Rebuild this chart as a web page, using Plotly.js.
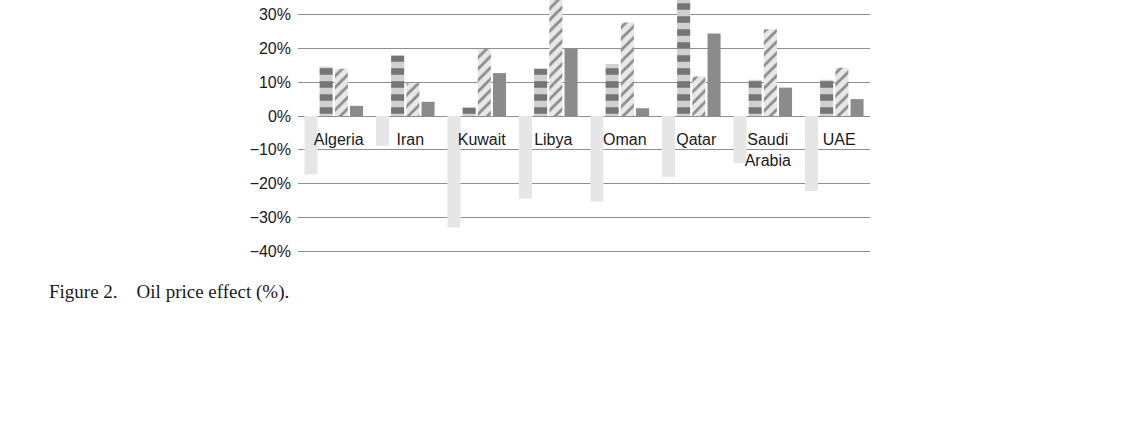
<!DOCTYPE html>
<html>
<head>
<meta charset="utf-8">
<script src="https://cdn.plot.ly/plotly-3.0.1.min.js"></script>
<style>
  html, body { margin: 0; padding: 0; background: #fff; }
  #chart { width: 1142px; height: 430px; }
</style>
</head>
<body>
<div id="chart"></div>
<script>
// oil price effect (%) by country, four scenarios
const countries = ['Algeria', 'Iran', 'Kuwait', 'Libya', 'Oman', 'Qatar', 'Saudi<br>Arabia', 'UAE'];
const seriesLight = [-17.3, -8.8, -33.0, -24.5, -25.4, -18.0, -13.9, -22.2];
const seriesBands = [14.6, 17.9, 2.5, 14.0, 15.4, 40.0, 10.7, 10.7];
const seriesStripes = [14.0, 9.7, 19.8, 38.0, 27.7, 11.7, 25.7, 14.3];
const seriesDark = [3.0, 4.2, 12.7, 19.9, 2.3, 24.4, 8.4, 5.0];

const tickVals = [-40, -30, -20, -10, 0, 10, 20, 30];
const tickText = ['\u221240%', '\u221230%', '\u221220%', '\u221210%', '0%', '10%', '20%', '30%'];

const caption = 'Figure 2.&nbsp;&nbsp;&nbsp; Oil price effect (%).';

const traces = [
  {
    x: countries,
    y: seriesLight,
    type: 'bar',
    marker: { color: '#e5e6e5', line: { width: 0 } },
  },
  {
    x: countries,
    y: seriesBands,
    type: 'bar',
    marker: {
      color: '#c4c4c4',
      line: { width: 0 },
      pattern: { shape: '-', fgcolor: '#747474', bgcolor: '#d0d0d0', size: 13, solidity: 0.5 },
    },
  },
  {
    x: countries,
    y: seriesStripes,
    type: 'bar',
    marker: {
      color: '#e4e4e4',
      line: { width: 0 },
      pattern: { shape: '/', fgcolor: '#8c8c8c', bgcolor: '#e8e8e8', size: 8, solidity: 0.35 },
    },
  },
  {
    x: countries,
    y: seriesDark,
    type: 'bar',
    marker: { color: '#8b8b8b', line: { width: 0 } },
  },
];

const yMin = -40.84;
const yMax = 34.33;

const layout = {
  width: 1142,
  height: 430,
  margin: { l: 298, r: 272, t: 0, b: 176 },
  paper_bgcolor: '#ffffff',
  plot_bgcolor: '#ffffff',
  showlegend: false,
  barmode: 'group',
  bargap: 0.15,
  bargroupgap: 0.14,
  font: { family: 'Liberation Sans, Arial, sans-serif', size: 16, color: '#1a1a1a' },
  xaxis: {
    type: 'category',
    anchor: 'free',
    position: (0 - yMin) / (yMax - yMin),
    showline: false,
    showgrid: false,
    ticks: '',
    ticklabelstandoff: 12,
    ticklabelshift: 5,
    tickfont: { size: 16 },
    fixedrange: true,
  },
  yaxis: {
    range: [yMin, yMax],
    tickvals: tickVals,
    ticktext: tickText,
    showgrid: true,
    gridcolor: '#8f8f8f',
    gridwidth: 1,
    zeroline: true,
    zerolinecolor: '#8f8f8f',
    zerolinewidth: 1,
    showline: false,
    ticks: '',
    ticklabelstandoff: 6,
    tickfont: { size: 16 },
    fixedrange: true,
  },
  annotations: [
    {
      text: caption,
      xref: 'paper',
      yref: 'paper',
      x: -251 / 572,
      y: -38 / 254,
      xanchor: 'left',
      yanchor: 'middle',
      showarrow: false,
      font: { family: 'Liberation Serif, Times New Roman, serif', size: 19, color: '#1a1a1a' },
    },
  ],
};

Plotly.newPlot('chart', traces, layout, { staticPlot: true, displayModeBar: false });
</script>
</body>
</html>
